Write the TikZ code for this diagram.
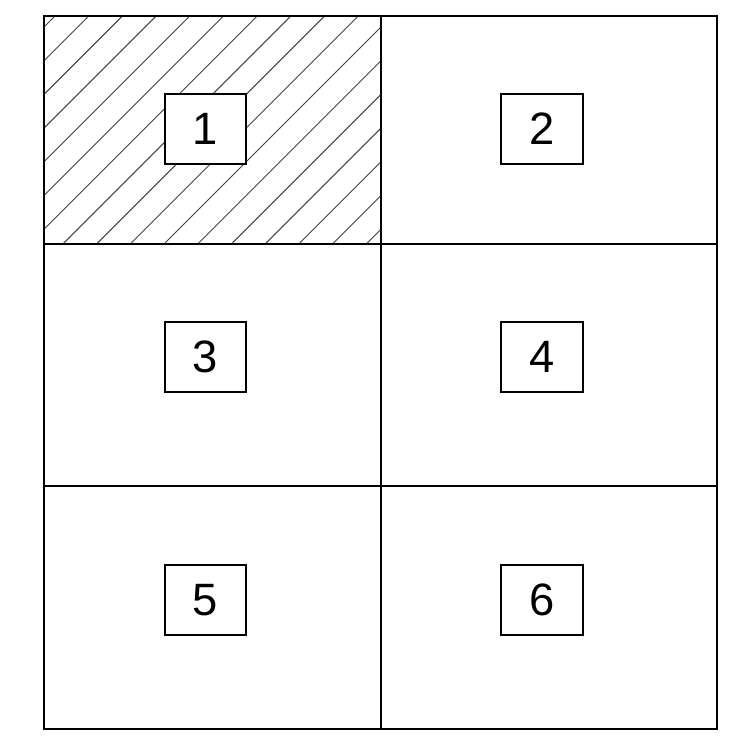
\documentclass[tikz,border=0pt]{standalone}
\usepackage{fontspec}
\setmainfont{Liberation Sans}
\begin{document}
\begin{tikzpicture}[x=0.75pt,y=-0.75pt,
  gridline/.style={line width=1.5pt,black},
  hatchline/.style={line width=0.7pt,black!75},
  numbox/.style={draw,line width=1.5pt,fill=white,minimum width=61pt,minimum height=52pt,inner sep=0pt,font=\fontsize{34}{34}\selectfont}]
\useasboundingbox (0,0) rectangle (751,741);
% corner coordinates
\coordinate (tl) at (44,16);
\coordinate (tr) at (717,16);
\coordinate (bl) at (44,729);
\coordinate (br) at (717,729);
\coordinate (mt) at (380.5,16);
\coordinate (mb) at (380.5,729);
\coordinate (r1l) at (44,244);
\coordinate (r1r) at (717,244);
\coordinate (r2l) at (44,486);
\coordinate (r2r) at (717,486);
\coordinate (c1) at (380.5,244);
% hatching of cell 1
\begin{scope}
  \clip (tl) rectangle (c1);
  \foreach \k in {0,...,17} {
    \draw[hatchline] ({71+33.7*\k},0) -- ({71+33.7*\k-260},260);
  }
\end{scope}
% grid
\draw[gridline] (tl) rectangle (br);
\draw[gridline] (mt) -- (mb);
\draw[gridline] (r1l) -- (r1r);
\draw[gridline] (r2l) -- (r2r);
% numbered boxes
\node[numbox] (n1) at (205.5,129) {1};
\node[numbox] (n2) at (542,129) {2};
\node[numbox] (n3) at (205.5,357) {3};
\node[numbox] (n4) at (542,357) {4};
\node[numbox] (n5) at (205.5,600) {5};
\node[numbox] (n6) at (542,600) {6};
\end{tikzpicture}
\end{document}
